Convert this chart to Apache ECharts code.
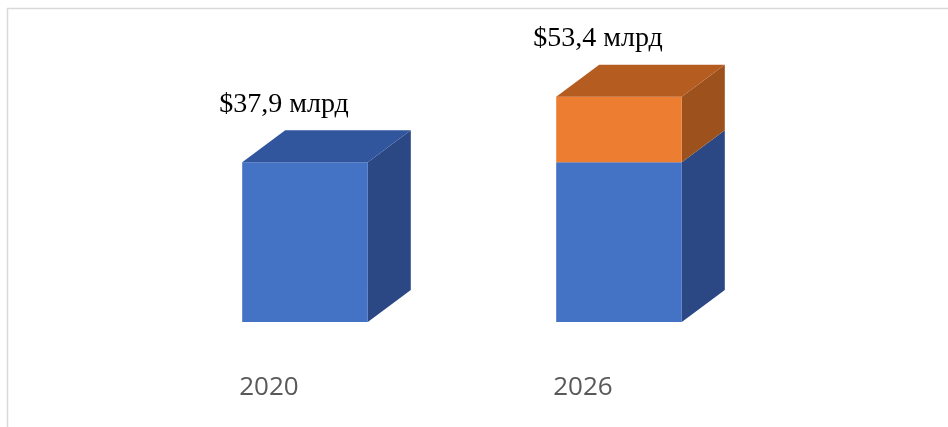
<!DOCTYPE html>
<html>
<head>
<meta charset="utf-8">
<script src="https://cdn.jsdelivr.net/npm/echarts@6/dist/echarts.min.js"></script>
<style>
html,body{margin:0;padding:0;background:#fff;}
#chart{width:948px;height:427px;}
</style>
</head>
<body>
<div id="chart"></div>
<script>
var categories = ['2020', '2026'];
var baseValues = [37.9, 37.9];
var growthValues = [0, 15.5];
var totalLabels = ['$37,9 млрд', '$53,4 млрд'];

var DX = 43, DY = -32, BAR_FRAC = 0.40;

function boxRenderer(front, top, side, isTopFn) {
  return function (params, api) {
    var i = api.value(0), lo = api.value(1), hi = api.value(2);
    if (hi <= lo) return null;
    var pLo = api.coord([i, lo]);
    var pHi = api.coord([i, hi]);
    var w = api.size([1, 0])[0] * BAR_FRAC;
    var x0 = pLo[0] - w / 2, x1 = pLo[0] + w / 2;
    var yb = pLo[1], yt = pHi[1];
    var children = [
      { type: 'polygon', shape: { points: [[x1, yb], [x1 + DX, yb + DY], [x1 + DX, yt + DY], [x1, yt]] }, style: { fill: side } },
      { type: 'rect', shape: { x: x0, y: yt, width: w, height: yb - yt }, style: { fill: front } }
    ];
    if (isTopFn(i)) {
      children.push({ type: 'polygon', shape: { points: [[x0, yt], [x1, yt], [x1 + DX, yt + DY], [x0 + DX, yt + DY]] }, style: { fill: top } });
    }
    return { type: 'group', children: children };
  };
}

var blueData = categories.map(function (c, i) { return [i, 0, baseValues[i]]; });
var orangeData = categories.map(function (c, i) { return [i, baseValues[i], baseValues[i] + growthValues[i]]; });
var labelData = categories.map(function (c, i) { return [i, baseValues[i] + growthValues[i]]; });

var chart = echarts.init(document.getElementById('chart'), null, { renderer: 'canvas' });
chart.setOption({
  animation: false,
  backgroundColor: '#fff',
  graphic: [{
    type: 'rect', shape: { x: 7.5, y: 8.5, width: 960, height: 440 },
    style: { fill: 'none', stroke: '#d9d9d9', lineWidth: 1.5 }, silent: true, z: -10
  }],
  grid: { left: 148, top: 69, width: 628, height: 253 },
  xAxis: {
    type: 'category', data: categories,
    axisLine: { show: false }, axisTick: { show: false }, axisLabel: { show: false }, splitLine: { show: false }
  },
  yAxis: {
    type: 'value', min: 0, max: 60, interval: 10, show: false, splitLine: { show: false }
  },
  series: [
    {
      type: 'custom', name: 'base', data: blueData, encode: { x: 0, y: [1, 2] },
      renderItem: boxRenderer('#4472C4', '#31569D', '#2B4884', function (i) { return growthValues[i] <= 0; })
    },
    {
      type: 'custom', name: 'growth', data: orangeData, encode: { x: 0, y: [1, 2] },
      renderItem: boxRenderer('#ED7D31', '#B55C21', '#9D521D', function () { return true; })
    },
    {
      type: 'custom', name: 'labels', data: labelData, encode: { x: 0, y: 1 }, z: 5,
      renderItem: function (params, api) {
        var i = api.value(0), v = api.value(1);
        var pTop = api.coord([i, v]);
        var pBase = api.coord([i, 0]);
        var w = api.size([1, 0])[0] * BAR_FRAC;
        return {
          type: 'group', children: [
            { type: 'text', style: { x: pTop[0] - 21, y: pTop[1] - 58, text: totalLabels[i], fill: '#000',
              font: '28px "Liberation Serif", "Times New Roman", serif', textAlign: 'center', textVerticalAlign: 'middle' } },
            { type: 'text', style: { x: pBase[0] - w / 2 - 3, y: pBase[1] + 66, text: categories[i], fill: '#595959',
              font: '26px "Open Sans", "Noto Sans", sans-serif', textAlign: 'left', textVerticalAlign: 'middle' } }
          ]
        };
      }
    }
  ]
});
</script>
</body>
</html>
